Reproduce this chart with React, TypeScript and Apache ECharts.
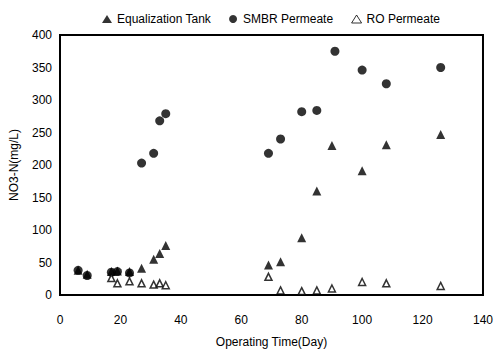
import React, { useEffect, useRef } from "react";
import * as echarts from "echarts";

const xTicks = [0, 20, 40, 60, 80, 100, 120, 140];
const yTicks = [0, 50, 100, 150, 200, 250, 300, 350, 400];

const eqDays = [6, 9, 17, 19, 23, 27, 31, 33, 35, 69, 73, 80, 85, 90, 100, 108, 126];
const eqValues = [38, 32, 36, 37, 36, 41, 55, 64, 76, 46, 51, 88, 160, 230, 191, 231, 247];

const smbrDays = [6, 9, 17, 19, 23, 27, 31, 33, 35, 69, 73, 80, 85, 91, 100, 108, 126];
const smbrValues = [38, 30, 35, 36, 34, 203, 218, 268, 279, 218, 240, 282, 284, 375, 346, 325, 350];

const roDays = [17, 19, 23, 27, 31, 33, 35, 69, 73, 80, 85, 90, 100, 108, 126];
const roValues = [26, 18, 21, 18, 16, 18, 15, 28, 7, 6, 7, 10, 20, 18, 14];

const pairs = (xs: number[], ys: number[]) => xs.map((x, i) => [x, ys[i]]);

export default function App() {
  const ref = useRef<HTMLDivElement>(null);
  useEffect(() => {
    if (!ref.current) return;
    const chart = echarts.init(ref.current, null, { renderer: "svg" });
    const font = "Liberation Sans, Arial, sans-serif";
    chart.setOption({
      animation: false,
      backgroundColor: "#fff",
      textStyle: { fontFamily: font },
      legend: {
        top: 8,
        left: 97,
        itemGap: 18,
        itemWidth: 10,
        itemHeight: 8,
        textStyle: { fontFamily: font, fontSize: 12, color: "#000" },
        data: [
          { name: "Equalization Tank", icon: "triangle", itemStyle: { color: "#000" } },
          { name: "SMBR Permeate", icon: "circle", itemStyle: { color: "#000" } },
          { name: "RO Permeate", icon: "triangle", itemStyle: { color: "#fff", borderColor: "#000", borderWidth: 1 } },
        ],
      },
      grid: {
        left: 59,
        top: 35,
        right: 13,
        bottom: 53,
        show: true,
        borderColor: "#000",
        borderWidth: 2,
      },
      xAxis: {
        type: "value",
        min: 0,
        max: 140,
        interval: 20,
        name: "Operating Time(Day)",
        nameLocation: "middle",
        nameGap: 41,
        nameTextStyle: { fontFamily: font, fontSize: 12, color: "#000" },
        axisLine: { show: false },
        axisTick: { show: false },
        splitLine: { show: false },
        axisLabel: { fontFamily: font, fontSize: 12, color: "#000", margin: 19 },
      },
      yAxis: {
        type: "value",
        min: 0,
        max: 400,
        interval: 50,
        name: "NO3-N(mg/L)",
        nameLocation: "middle",
        nameGap: 40,
        nameTextStyle: { fontFamily: font, fontSize: 12, color: "#000" },
        axisLine: { show: false },
        axisTick: { show: false },
        splitLine: { show: false },
        axisLabel: { fontFamily: font, fontSize: 12, color: "#000", margin: 8 },
      },
      series: [
        {
          name: "Equalization Tank",
          type: "scatter",
          symbol: "triangle",
          symbolSize: 9,
          itemStyle: { color: "#000" },
          data: pairs(eqDays, eqValues),
        },
        {
          name: "SMBR Permeate",
          type: "scatter",
          symbol: "circle",
          symbolSize: 9,
          itemStyle: { color: "#000" },
          data: pairs(smbrDays, smbrValues),
        },
        {
          name: "RO Permeate",
          type: "scatter",
          symbol: "triangle",
          symbolSize: 7,
          itemStyle: { color: "#fff", borderColor: "#000", borderWidth: 1.5 },
          data: pairs(roDays, roValues),
        },
      ],
    });
    return () => chart.dispose();
  }, []);
  return (
    <div
      ref={ref}
      style={{ position: "fixed", left: 0, top: 0, width: 496, height: 353 }}
    />
  );
}
